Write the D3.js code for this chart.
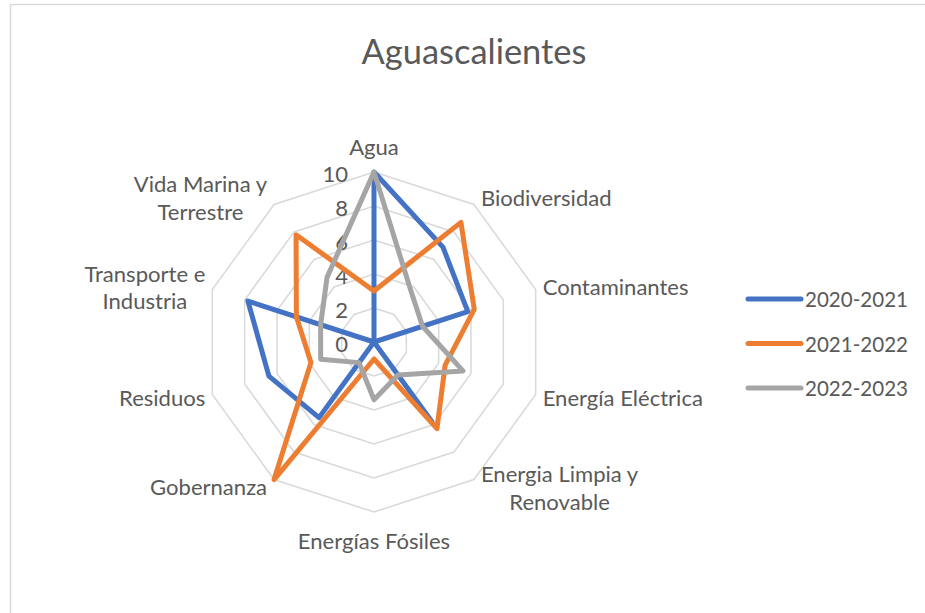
<!DOCTYPE html>
<html>
<head>
<meta charset="utf-8">
<script src="https://cdn.jsdelivr.net/npm/d3@7/dist/d3.min.js"></script>
<style>
  html, body { margin: 0; padding: 0; background: #ffffff; }
  svg { display: block; }
  text { font-family: Lato, "Open Sans", sans-serif; fill: #595959; }
</style>
</head>
<body>
<svg id="chart" width="925" height="613"></svg>
<script>
// ---- data ----
const title = "Aguascalientes";
const categories = ["Agua", "Biodiversidad", "Contaminantes", "Energía Eléctrica",
  "Energia Limpia y Renovable", "Energías Fósiles", "Gobernanza", "Residuos",
  "Transporte e Industria", "Vida Marina y Terrestre"];
const categoryLines = [["Agua"], ["Biodiversidad"], ["Contaminantes"], ["Energía Eléctrica"],
  ["Energia Limpia y", "Renovable"], ["Energías Fósiles"], ["Gobernanza"], ["Residuos"],
  ["Transporte e", "Industria"], ["Vida Marina y", "Terrestre"]];
const seriesNames = ["2020-2021", "2021-2022", "2022-2023"];
const values2020 = [10, 6.9, 5.8, 0, 5.8, 0, 5.5, 6.5, 7.8, 0];
const values2021 = [3, 8.7, 6.2, 4.4, 6.3, 1.0, 10, 3.9, 4.8, 7.8];
const values2022 = [10, 3.7, 3.0, 5.5, 2.4, 3.4, 1.5, 3.3, 3.3, 4.7];
const tickValues = [0, 2, 4, 6, 8, 10];
const seriesColors = ["#4472C4", "#ED7D31", "#A5A5A5"];

// ---- layout ----
const svg = d3.select("#chart");
const cx = 374, cy = 342, R = 170;
const n = categories.length;
const r = d3.scaleLinear().domain([0, 10]).range([0, R]);
const angle = d3.scaleLinear().domain([0, n]).range([0, 2 * Math.PI]);
const pt = (i, v) => [cx + r(v) * Math.sin(angle(i)), cy - r(v) * Math.cos(angle(i))];

function fitSize(str, targetW) {
  const t = svg.append("text").attr("font-size", 100).text(str);
  const w = t.node().getComputedTextLength();
  t.remove();
  return 100 * targetW / w;
}
const labelSize = fitSize("Contaminantes", 146);
const legendSize = fitSize("2020-2021", 103);
const titleSize = fitSize(title, 225);

// border
svg.append("rect").attr("x", 10.5).attr("y", 4.5).attr("width", 1000).attr("height", 1000)
  .attr("fill", "none").attr("stroke", "#d9d9d9").attr("stroke-width", 1.5);

// title
svg.append("text").attr("x", 474).attr("y", 50).attr("text-anchor", "middle")
  .attr("dominant-baseline", "central").attr("font-size", titleSize).text(title);

// grid
const grid = svg.append("g");
tickValues.filter(v => v > 0).forEach(v => {
  grid.append("path")
    .attr("d", d3.line()(d3.range(n).map(i => pt(i, v))) + "Z")
    .attr("fill", "none").attr("stroke", "#d9d9d9").attr("stroke-width", 1.5);
});

// tick labels
svg.append("g").selectAll("text").data(tickValues).join("text")
  .attr("x", cx - 26).attr("y", d => cy - r(d) + 1)
  .attr("text-anchor", "end").attr("dominant-baseline", "central")
  .attr("font-size", labelSize).text(d => d);

// category labels
const lab = svg.append("g");
categoryLines.forEach((lines, i) => {
  const [vx, vy] = pt(i, 10);
  const s = Math.sin(angle(i)), c = Math.cos(angle(i));
  let x, y, anchor;
  const lh = labelSize * 1.25;
  if (Math.abs(s) < 0.1) {
    anchor = "middle"; x = vx; y = vy - (c > 0 ? 26 : -28);
  } else {
    x = vx + (s > 0 ? 7 : -7);
    y = vy - 9 * c;
    anchor = s > 0 ? "start" : "end";
  }
  const g = lab.append("text").attr("font-size", labelSize).attr("dominant-baseline", "central");
  if (lines.length > 1) {
    const tmp = lines.map(l => {
      const t = svg.append("text").attr("font-size", labelSize).text(l);
      const w = t.node().getComputedTextLength(); t.remove(); return w;
    });
    const bw = d3.max(tmp);
    const mid = anchor === "start" ? x + bw / 2 : anchor === "end" ? x - bw / 2 : x;
    g.attr("text-anchor", "middle");
    lines.forEach((l, k) => {
      g.append("tspan").attr("x", mid).attr("y", y + (k - (lines.length - 1) / 2) * lh).text(l);
    });
  } else {
    g.attr("text-anchor", anchor).attr("x", x).attr("y", y).text(lines[0]);
  }
});

// series
const allSeries = [values2020, values2021, values2022];
const radial = d3.lineRadial().angle((d, i) => angle(i)).radius(d => r(d)).curve(d3.curveLinearClosed);
const sg = svg.append("g").attr("transform", `translate(${cx},${cy})`);
allSeries.forEach((vals, k) => {
  sg.append("path").attr("d", radial(vals)).attr("fill", "none")
    .attr("stroke", seriesColors[k]).attr("stroke-width", 5)
    .attr("stroke-linejoin", "round").attr("stroke-linecap", "round");
});

// legend
const leg = svg.append("g");
seriesNames.forEach((name, k) => {
  const y = 299 + k * 44.5;
  leg.append("line").attr("x1", 748).attr("x2", 801).attr("y1", y).attr("y2", y)
    .attr("stroke", seriesColors[k]).attr("stroke-width", 5).attr("stroke-linecap", "round");
  leg.append("text").attr("x", 805).attr("y", y).attr("dominant-baseline", "central")
    .attr("font-size", legendSize).text(name);
});
</script>
</body>
</html>
